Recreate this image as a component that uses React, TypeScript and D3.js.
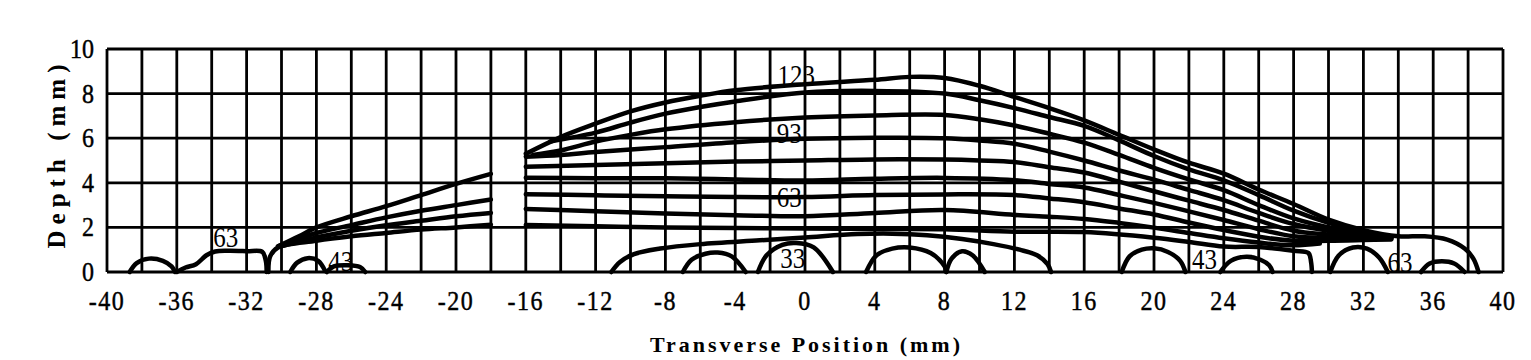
import React from "react";
import * as d3 from "d3";

type P = [number, number];

// axis ticks
const xTicks = [-40, -36, -32, -28, -24, -20, -16, -12, -8, -4, 0, 4, 8, 12, 16, 20, 24, 28, 32, 36, 40];
const yTicks = [0, 2, 4, 6, 8, 10];
const xGrid = d3.range(-40, 41, 2);
const yGrid = [0, 2, 4, 6, 8, 10];

// main band of contours (transverse mm, depth mm)
const c123: P[] = [[-16,5.3],[-14,6.05],[-12,6.65],[-10,7.2],[-8,7.6],[-6,7.9],[-4,8.15],[0,8.42],[4,8.62],[6,8.75],[8,8.7],[10,8.35],[12,7.85],[14,7.35],[16,6.8],[18,6.15],[20,5.5],[22,4.9],[24,4.41],[26,3.7],[28,3.05],[30,2.35],[32,1.88],[34,1.6],[35.5,1.6],[36.8,1.45],[37.8,1.05],[38.3,0.6],[38.6,0]];
const c113: P[] = [[-14.6,5.85],[-12,6.25],[-10,6.7],[-8,7.1],[-6,7.4],[-4,7.65],[0,8.05],[4,8.12],[8,8.0],[10,7.7],[12,7.35],[14,6.95],[16,6.55],[18,5.9],[20,5.2],[22,4.6],[24,4.11],[26,3.45],[28,2.75],[30,2.2],[32,1.8],[33.6,1.58]];
const c103: P[] = [[-15.6,5.25],[-14,5.45],[-12,5.85],[-10,6.15],[-8,6.4],[-4,6.72],[0,6.93],[4,7.02],[8,7.04],[10,6.85],[12,6.57],[14,6.2],[16,5.8],[18,5.25],[20,4.67],[22,4.15],[24,3.67],[26,3.0],[28,2.4],[30,2.0],[32,1.74],[33.6,1.56]];
const c93: P[] = [[-16,5.17],[-14,5.25],[-12,5.38],[-8,5.6],[-4,5.82],[0,5.97],[4,6.02],[8,6.0],[10,5.9],[12,5.75],[14,5.4],[16,5.0],[18,4.55],[20,4.14],[22,3.68],[24,3.22],[26,2.65],[28,2.15],[30,1.85],[32,1.67],[33.6,1.54]];
const c83: P[] = [[-16,4.72],[-12,4.8],[-8,4.88],[-4,4.95],[0,5.0],[4,5.05],[8,5.04],[10,5.0],[12,4.93],[14,4.7],[16,4.46],[18,4.05],[20,3.62],[22,3.2],[24,2.78],[26,2.3],[28,1.85],[30,1.68],[32,1.58],[33.6,1.52]];
const c73: P[] = [[-16,4.23],[-12,4.2],[-8,4.2],[-4,4.15],[0,4.1],[4,4.18],[8,4.22],[12,4.12],[14,3.95],[16,3.79],[18,3.45],[20,3.1],[22,2.72],[24,2.33],[26,1.92],[28,1.6],[30,1.52],[32,1.5],[33.6,1.49]];
const c63: P[] = [[-16,3.49],[-12,3.44],[-8,3.4],[-4,3.36],[0,3.36],[4,3.45],[8,3.48],[12,3.45],[14,3.3],[16,3.13],[18,2.85],[20,2.58],[22,2.22],[24,1.88],[26,1.58],[28,1.4],[30,1.4],[32,1.43],[33.6,1.46]];
const c53: P[] = [[-16,2.83],[-12,2.72],[-8,2.62],[-4,2.55],[0,2.5],[4,2.65],[8,2.78],[12,2.56],[14,2.48],[16,2.38],[18,2.2],[20,1.99],[22,1.75],[24,1.51],[26,1.32],[28,1.2],[29.5,1.28]];
const c43: P[] = [[-16,2.11],[-12,2.05],[-8,2.0],[-4,1.97],[0,1.95],[4,1.93],[8,1.92],[12,1.81],[16,1.79],[20,1.54],[22,1.35],[24,1.14],[26,1.12],[28,0.95],[28.85,0.85],[29.0,0.45],[29.05,0]];

// left fan
const left1: P[] = [[-30.2,1.15],[-29,1.6],[-28,2.0],[-26,2.5],[-24,2.95],[-22,3.45],[-20,3.95],[-18,4.4]];
const left2: P[] = [[-30.2,1.15],[-28,1.75],[-26,2.1],[-24,2.45],[-22,2.75],[-20,3.0],[-18,3.25]];
const left3: P[] = [[-30.2,1.12],[-28,1.55],[-26,1.85],[-24,2.1],[-22,2.3],[-20,2.5],[-18,2.65]];
const left4: P[] = [[-30.75,0],[-30.65,0.7],[-30.2,1.1],[-28,1.4],[-26,1.6],[-24,1.75],[-22,1.9],[-20,2.0],[-18,2.12]];

// near-surface arcs
const arcL1: P[] = [[-38.7,0],[-38.3,0.4],[-37.6,0.6],[-36.8,0.5],[-36.3,0.25],[-36.1,0]];
const arcL63: P[] = [[-36.0,0],[-35.5,0.2],[-34.9,0.35],[-34.3,0.75],[-33.8,0.92],[-33,0.95],[-32,0.93],[-31.1,0.9],[-30.9,0.5],[-30.85,0]];
const arcL3: P[] = [[-29.5,0],[-29.1,0.42],[-28.5,0.62],[-27.9,0.5],[-27.5,0.05]];
const arcL4: P[] = [[-27.4,0],[-27.0,0.25],[-26.2,0.3],[-25.5,0.22],[-25.2,0]];
const arcBig: P[] = [[-11.1,0],[-10.6,0.45],[-9.8,0.8],[-8.3,1.05],[-6,1.25],[-2.6,1.42],[0,1.55],[3,1.7],[5,1.72],[7,1.65],[9,1.48],[10.8,1.25],[12.3,1.0],[13.3,0.75],[13.9,0.35],[14.1,0]];
const arcM1: P[] = [[-7.0,0],[-6.5,0.55],[-5.7,0.82],[-5.0,0.87],[-4.2,0.7],[-3.4,0]];
const arcM2: P[] = [[-2.7,0],[-2.2,0.75],[-1.3,1.22],[-0.5,1.3],[0.5,1.1],[1.6,0]];
const arcM3: P[] = [[3.5,0],[4.1,0.75],[5.0,1.05],[6.0,1.1],[7.2,0.85],[8.0,0.25],[8.1,0]];
const arcM4: P[] = [[8.1,0],[8.4,0.6],[9.0,0.93],[9.6,0.75],[10.3,0]];
const arcR1: P[] = [[18.15,0],[18.6,0.7],[19.3,1.0],[20,1.06],[20.8,0.9],[21.5,0.5],[21.8,0]];
const arcR2: P[] = [[23.8,0],[24.4,0.5],[25.3,0.68],[26.1,0.55],[26.6,0.3],[26.8,0]];
const arcR3: P[] = [[30.1,0],[30.6,0.75],[31.4,1.1],[32.2,1.05],[32.9,0.65],[33.4,0]];
const arcR4: P[] = [[35.3,0],[35.8,0.38],[36.5,0.48],[37.2,0.38],[37.8,0]];

const contours: P[][] = [c123, c113, c103, c93, c83, c73, c63, c53, c43, left1, left2, left3, left4,
  arcL1, arcL63, arcL3, arcL4, arcBig, arcM1, arcM2, arcM3, arcM4, arcR1, arcR2, arcR3, arcR4];

// contour labels: text, x (mm), baseline depth (mm)
const labelText = ["123", "93", "63", "33", "63", "43", "43", "63"];
const labelX = [-0.5, -0.9, -0.9, -0.7, -33.2, -26.6, 22.9, 34.1];
const labelY = [8.4, 5.8, 2.9, 0.2, 1.1, 0.05, 0.15, 0.0];

const W = 1531, H = 360;
const FONT = "'Liberation Serif', 'Times New Roman', serif";

export default function App() {
  const x = d3.scaleLinear().domain([-40, 40]).range([107, 1503]);
  const y = d3.scaleLinear().domain([0, 10]).range([272, 49]);
  const line = d3.line<P>().x(d => x(d[0])).y(d => y(d[1])).curve(d3.curveCatmullRom.alpha(0.5));

  return (
    <svg width={W} height={H} style={{ position: "absolute", left: 0, top: 0, background: "#fff" }}
      fontFamily={FONT}>
      <rect x={0} y={0} width={W} height={H} fill="#fff" />
      {xGrid.map(v => (
        <line key={"gx" + v} x1={x(v)} x2={x(v)} y1={y(0)} y2={y(10)} stroke="#000" strokeWidth={2.8} />
      ))}
      {yGrid.map(v => (
        <line key={"gy" + v} x1={x(-40)} x2={x(40)} y1={y(v)} y2={y(v)} stroke="#000" strokeWidth={2.8} />
      ))}
      {contours.map((c, i) => (
        <path key={"c" + i} d={line(c) || ""} fill="none" stroke="#000" strokeWidth={4.5}
          strokeLinecap="round" strokeLinejoin="round" />
      ))}
      {labelText.map((t, i) => (
        <text key={"l" + i} transform={`translate(${x(labelX[i])},${y(labelY[i])}) scale(1,1.15)`}
          fontSize={25} textAnchor="middle" fill="#000">{t}</text>
      ))}
      {xTicks.map(v => (
        <text key={"tx" + v} transform={`translate(${x(v)},310) scale(1,1.15)`} fontSize={24}
          textAnchor="middle" letterSpacing={1.5} stroke="#000" strokeWidth={0.4} fill="#000">{v}</text>
      ))}
      {yTicks.map(v => (
        <text key={"ty" + v} transform={`translate(94,${y(v) + 9}) scale(1,1.15)`} fontSize={24}
          textAnchor="end" stroke="#000" strokeWidth={0.4} fill="#000">{v}</text>
      ))}
      <text x={0} y={0} transform={`translate(65, ${y(5) - 4}) rotate(-90)`} textAnchor="middle" fontSize={25}
        fontWeight="bold" textLength={184} lengthAdjust="spacing" fill="#000">Depth (mm)</text>
      <text x={805} y={352} textAnchor="middle" fontSize={22} fontWeight="bold" textLength={310}
        lengthAdjust="spacing" fill="#000">Transverse Position (mm)</text>
    </svg>
  );
}
